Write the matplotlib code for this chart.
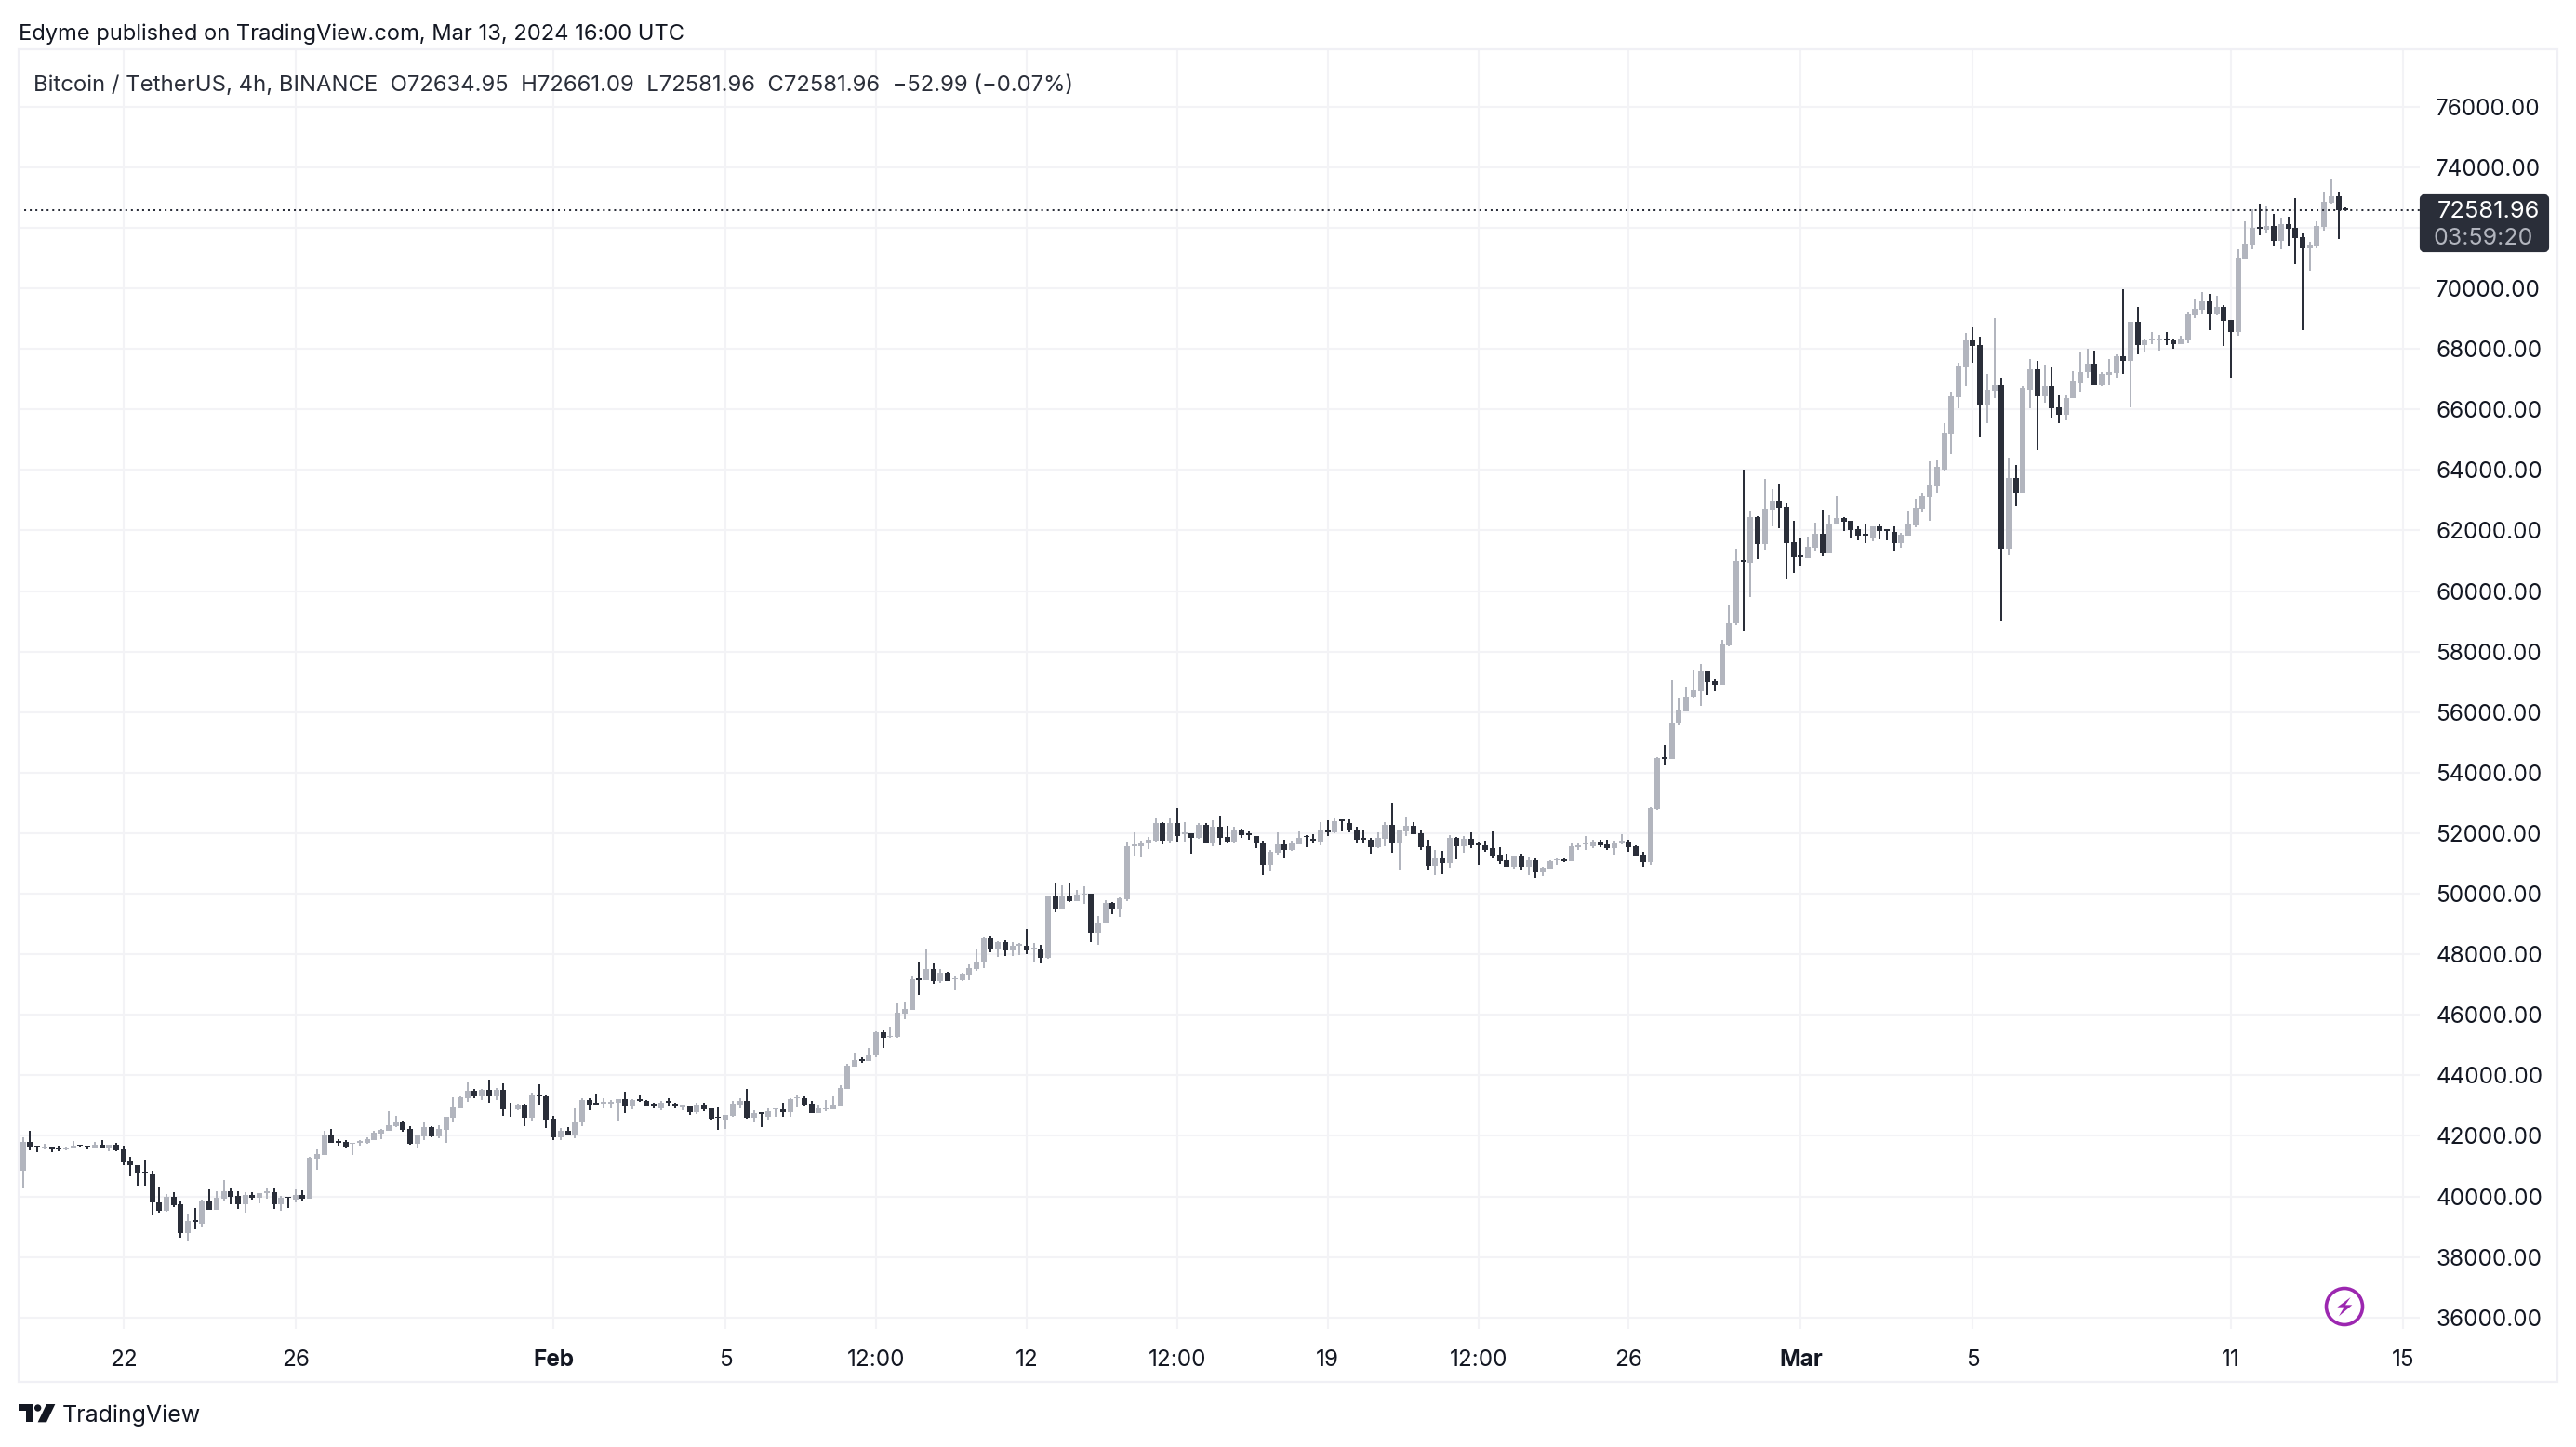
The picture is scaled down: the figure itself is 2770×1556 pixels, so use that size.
import matplotlib
matplotlib.use("Agg")
import matplotlib.pyplot as plt
import matplotlib.dates as mdates
from matplotlib.patches import Rectangle, Circle, Polygon, FancyBboxPatch
import numpy as np
import pandas as pd

plt.rcParams['font.family'] = ['Inter', 'DejaVu Sans']

highs = [41960,42175,41670,41730,41650,41660,41650,41835,41700,41670,
41805,41855,41710,41775,41680,41300,41025,41220,40840,40330,
40080,40130,39825,39435,39620,39900,40235,40175,40545,40255,
40175,40130,40130,40100,40265,40265,40020,39990,40235,40205,
41300,41560,42175,42235,41900,41855,41775,41865,41960,42165,
42235,42820,42665,42510,42330,42050,42480,42330,42360,42635,
43280,43300,43775,43560,43560,43865,43590,43745,43100,43065,
43065,43435,43715,43335,42665,42265,42300,42915,43250,43250,
43405,43250,43190,43220,43465,43220,43375,43190,43100,43160,
43250,43100,43025,43005,43100,43100,42945,42975,42700,43160,
43250,43560,42850,42790,42945,42915,43100,43250,43375,43315,
43160,43035,43190,43310,43685,44390,44760,44605,44890,45445,
45475,45600,46370,46430,47290,47725,48185,47695,47510,47415,
47260,47385,47660,48155,48555,48585,48430,48460,48400,48370,
48830,48370,48310,49930,50330,50265,50360,50115,50235,50000,
49260,49785,49735,49880,51710,52020,51745,51870,52480,52360,
52480,52820,52360,51990,52330,52330,52420,52575,52235,52205,
52145,52050,51900,51750,51445,52030,51785,51755,52060,51940,
51970,52370,52430,52490,52460,52460,52215,52125,51845,52030,
52370,52985,52125,52525,52370,52125,51785,51445,51415,51940,
51875,51910,52030,51725,51755,52060,51540,51320,51260,51320,
51200,51170,50890,51110,51170,51170,51690,51660,51910,51785,
51785,51785,51755,51970,51785,51600,51385,52860,54525,54920,
57075,56460,56830,57415,57600,57350,57105,58400,59510,61385,
64000,62650,62460,63695,63355,63540,62895,62310,61755,61785,
62245,62680,62495,63140,62430,62310,62125,62185,62125,62215,
62030,62125,61910,62650,63015,63230,64280,64310,65560,66575,
67530,68515,68700,68390,67160,69005,67005,64370,64155,66760,
67650,67590,67465,67375,66480,66480,67280,67900,67990,67930,
67250,67650,67805,69960,68885,69375,68300,68545,68450,68545,
68300,68420,69190,69650,69865,69805,69745,69435,68945,71280,
72205,72605,72790,72730,72450,72330,72360,72975,71805,71530,
72205,73160,73620,73160,72661.09]

body_tops = [41805,41805,41670,41650,41630,41590,41620,41680,41700,41670,
41700,41700,41700,41720,41560,41190,41025,40810,40760,39805,
40000,39990,39745,39190,39220,39870,39870,39960,40175,40175,
40020,40050,40050,40100,40175,40140,39960,39990,40050,40050,
41280,41405,42050,42050,41825,41805,41775,41835,41900,42115,
42205,42360,42450,42450,42235,42020,42300,42300,42235,42635,
42975,43280,43500,43500,43530,43530,43530,43530,42945,43035,
43035,43345,43375,43315,42575,42175,42175,42480,43190,43190,
43085,43100,43130,43220,43220,43190,43220,43160,43055,43100,
43130,43055,43025,43005,43035,43035,42915,42635,42700,43065,
43160,43160,42760,42770,42820,42915,42880,43220,43280,43250,
43065,42915,42945,43035,43590,44330,44515,44545,44675,45415,
45415,45300,46060,46185,47170,47200,47510,47510,47385,47385,
47200,47355,47540,47755,48525,48525,48400,48400,48280,48340,
48280,48205,48185,49910,49900,49900,49900,49960,50010,49990,
49045,49690,49690,49850,51560,51610,51680,51775,52330,52330,
52330,52330,52020,51990,52270,52270,52205,52205,51870,52115,
52115,51990,51900,51690,51385,51630,51630,51660,51845,51910,
51815,52125,52125,52400,52430,52340,52125,51845,51785,51845,
52275,52275,52090,52245,52245,52000,51570,51170,51170,51845,
51845,51815,51815,51660,51600,51510,51290,51105,51230,51230,
51105,51105,50860,51075,51140,51140,51570,51600,51660,51725,
51725,51630,51660,51755,51725,51570,51290,52830,54495,54520,
55660,56060,56520,56740,57350,57350,57045,58245,58955,60985,
61015,62430,62430,62710,62955,62955,62770,61600,61170,61445,
61880,61880,62215,62400,62400,62310,62030,61880,62125,62125,
62030,61940,61845,62185,62740,63140,63480,64095,65220,66450,
67405,68270,68270,68115,66665,66790,66790,63725,63725,66700,
67315,67315,66760,66760,66080,66390,66915,67250,67500,67500,
67160,67220,67745,67745,68885,68885,68265,68330,68330,68330,
68265,68300,69130,69315,69560,69560,69375,69375,68945,71005,
71465,71990,72010,72050,72050,72115,72115,71990,71680,71435,
72050,72855,73035,73035,72634.95]

body_bottoms = [40860,41630,41640,41600,41550,41550,41540,41600,41660,41630,
41600,41600,41580,41520,41160,41015,40770,40770,39785,39530,
39515,39710,38790,38790,39170,39095,39560,39560,39925,39990,
39745,39745,39960,39960,40110,39745,39745,39940,39895,39925,
39925,41250,41375,41775,41765,41650,41735,41765,41765,41865,
42080,42175,42330,42205,41745,41745,41990,41990,41990,42205,
42605,42945,43250,43315,43315,43315,43315,42880,42900,42880,
42605,42605,43315,42545,41960,41960,42020,42020,42450,43035,
43035,43065,43065,43100,43005,43005,43160,43005,43005,42945,
43090,43005,42975,42790,42790,42880,42575,42585,42545,42665,
43035,42605,42605,42730,42635,42860,42790,42790,43230,43035,
42760,42760,42880,42880,43005,43560,44300,44480,44460,44645,
45230,45260,45260,46030,46155,47150,47140,47110,47110,47110,
47170,47140,47325,47510,47725,48155,48155,48125,48125,48280,
48125,48155,47880,47880,49500,49500,49745,49745,49970,48710,
48710,49015,49480,49480,49805,51580,51560,51650,51745,51745,
51745,51900,51980,51835,51835,51680,51680,51835,51715,51715,
51930,51930,51650,50955,50955,51355,51445,51445,51630,51870,
51765,51725,52030,52030,52400,52090,51785,51785,51540,51540,
51815,51660,51660,52060,51970,51540,50925,50925,51015,51015,
51570,51570,51600,51610,51445,51260,51075,50890,50890,50890,
50890,50705,50705,50830,51095,51075,51075,51550,51620,51570,
51600,51510,51510,51690,51540,51260,51045,51045,52800,54470,
54460,55630,56030,56490,56705,57015,56890,56890,58215,58925,
60955,60925,61540,61540,62680,62740,61570,61110,61120,61080,
61415,61230,61230,62185,62280,62000,61815,61825,61755,61970,
61980,61570,61570,61815,62155,62710,63110,63445,64020,65190,
66420,67375,68085,66115,66115,66635,61385,61385,63230,63230,
66665,66450,66450,66050,65835,65835,66360,66880,67220,66790,
66790,67130,67190,67590,67590,68115,68115,68270,68290,68280,
68145,68145,68265,69095,69280,69130,69130,68910,68545,68545,
70975,71435,71970,71930,71560,71560,71960,71650,71315,71315,
71405,72020,72820,72575,72581.96]

lows = [40275,41510,41445,41540,41445,41490,41510,41590,41630,41540,
41590,41590,41500,41480,41035,40675,40340,40340,39415,39475,
39495,39660,38635,38550,38920,39005,39560,39540,39845,39745,
39590,39465,39900,39775,39925,39590,39525,39620,39805,39865,
39925,40880,41375,41775,41680,41590,41375,41680,41725,41855,
41900,42175,42300,42145,41710,41590,41865,41960,41930,41775,
42480,42945,43130,43250,43190,43100,43190,42665,42635,42850,
42330,42510,43035,42265,41865,41865,42020,41930,42330,42850,
43035,42915,42915,42515,42760,42880,43130,43005,42945,42850,
43005,42945,42850,42700,42730,42820,42545,42205,42235,42635,
42945,42575,42480,42300,42545,42635,42635,42635,42975,43005,
42760,42760,42820,42880,43005,43560,44300,44420,44460,44585,
44890,45230,45230,45845,46155,46645,47140,47015,47045,47110,
46800,47110,47140,47445,47540,48060,47910,47940,47940,47970,
48000,47755,47695,47845,49375,49500,49710,49745,49650,48400,
48310,49015,49325,49230,49745,51250,51190,51465,51715,51620,
51650,51715,51715,51315,51805,51680,51560,51590,51650,51680,
51835,51775,51500,50615,50740,51290,51170,51415,51630,51540,
51660,51600,51910,52000,52060,52030,51660,51690,51320,51510,
51570,51355,50770,51910,51970,51445,50800,50615,50645,50860,
51140,51355,51510,50955,51385,51170,50985,50890,50830,50800,
50615,50520,50585,50830,50955,51045,51075,51445,51445,51510,
51540,51445,51290,51630,51385,51260,50890,50955,52770,54245,
54460,55570,56030,56460,56215,56585,56705,56890,58185,58890,
58705,59815,61045,61355,62125,62060,60370,60585,60800,61080,
61325,61140,61230,62185,61970,61755,61660,61570,61630,61690,
61660,61325,61415,61815,62095,62585,62310,63230,63990,64545,
66050,66760,67530,65095,65530,66390,59015,61170,62800,63230,
66050,64665,66235,65715,65560,65650,66360,66545,67005,66790,
66760,66790,67035,67160,66080,67805,67865,68145,67930,68115,
67990,68145,68175,69005,69130,68605,69100,68080,67030,68420,
70975,71280,71745,71805,71375,71280,71375,70790,68605,70575,
71315,71900,72790,71620,72581.96]

directions = ("UDDUDDUUDD" "UDUDDDDDDD" "UDDUDUDUUD" "DUDUUDUDUD" "UUUDDDUUUU"
              "UUUDDUUDUU" "UUUDUDUDDU" "DUDDDUDUUD" "DUUUDUDDDU" "DDUDUDDDUU"
              "UDUDUUDUUD" "DUUUUUUDUU" "DUUUUDUDUD" "UUUUUDUDUU" "DUDUDUDUUD"
              "UUDUUUUUUD" "UDUDUDUDDU" "DDDDUUDUUD" "DUDUDDDDDU" "UDUUDDDUDU"
              "DUDDDDDDUD" "UDUUUDUUUU" "DDUUDDDUUD" "UUUUUDDUUU" "DUDUUDDDDU"
              "UDUUDDDDUD" "DDUUUUUUUU" "UUDDUUDUDU" "UDUDDUUUUD" "UUUDUDUUUD"
              "DUUUUDUDDU" "UUDUDUDDDU" "UUUDD")

time_ticks = ["2024-01-22 00:00", "2024-01-26 00:00", "2024-02-01 00:00", "2024-02-05 00:00", "2024-02-08 12:00",
              "2024-02-12 00:00", "2024-02-15 12:00", "2024-02-19 00:00", "2024-02-22 12:00", "2024-02-26 00:00",
              "2024-03-01 00:00", "2024-03-05 00:00", "2024-03-11 00:00", "2024-03-15 00:00"]
time_labels = ["22", "26", "Feb", "5", "12:00", "12", "12:00", "19", "12:00", "26", "Mar", "5", "11", "15"]
price_ticks = list(range(36000, 78000, 2000))
last_price = 72581.96

W, H = 2770, 1556
DARK = "#2A2E39"
UPC = "#B2B5BE"
GRID = "#F3F3F6"
TEXT = "#131722"
fs = 17.5

fig = plt.figure(figsize=(W / 100, H / 100), dpi=100, facecolor="white")
L, R, T, B = 20, 2602, 53, 1429
ax = fig.add_axes([L / W, 1 - B / H, (R - L) / W, (B - T) / H])

times = pd.date_range("2024-01-19 16:00", periods=len(highs), freq="4h")
x = mdates.date2num(times)
hi, tp, bt, lo = map(np.array, (highs, body_tops, body_bottoms, lows))
up = np.array([c == "U" for c in directions])
cols = np.where(up, UPC, DARK)

PX_PER_DAY = 46.25
x0 = mdates.date2num(pd.Timestamp("2024-01-22"))
ax.set_xlim(x0 + (L - 132.7) / PX_PER_DAY, x0 + (R - 132.7) / PX_PER_DAY)
pp = 1 / 0.03255
ax.set_ylim(70000 - (B - 310) * pp, 70000 + (310 - T) * pp)

ax.bar(x, hi - lo, bottom=lo, width=2 / PX_PER_DAY, color=cols, linewidth=0, zorder=3, antialiased=False)
ax.bar(x, np.maximum(tp - bt, 45), bottom=bt, width=6 / PX_PER_DAY, color=cols, linewidth=0, zorder=3, antialiased=False)
ax.axhline(last_price, color=DARK, lw=1.45, dashes=(1.0, 2.0), zorder=4)

for s in ax.spines.values():
    s.set_visible(False)
ax.set_xticks(mdates.date2num(pd.to_datetime(time_ticks)))
ax.set_xticklabels(time_labels)
ax.set_yticks(price_ticks)
ax.set_yticklabels(["" if p == 72000 else f"{p:.2f}" for p in price_ticks])
ax.yaxis.tick_right()
ax.grid(True, color=GRID, lw=1.45, zorder=0)
ax.set_axisbelow(True)
ax.tick_params(axis="y", length=0, pad=12.5, labelsize=fs, labelcolor=TEXT)
ax.tick_params(axis="x", length=0, pad=15.5, labelsize=fs, labelcolor=TEXT)
for lab in ax.get_xticklabels():
    if lab.get_text() in ("Feb", "Mar"):
        lab.set_fontweight("bold")

ov = fig.add_axes([0, 0, 1, 1], zorder=10)
ov.set_xlim(0, W)
ov.set_ylim(H, 0)
ov.axis("off")
ov.patch.set_alpha(0)
ov.add_patch(Rectangle((20, 53), 2730, 1432.7, fill=False, ec="#F0F0F5", lw=1.6))

ov.text(20, 37, "Edyme published on TradingView.com, Mar 13, 2024 16:00 UTC",
        fontsize=17.05, color=TEXT, va="center", ha="left")
ov.text(36, 92, "Bitcoin / TetherUS, 4h, BINANCE  O72634.95  H72661.09  L72581.96  C72581.96  \u221252.99 (\u22120.07%)",
        fontsize=17.2, color=DARK, va="center", ha="left")

ov.add_patch(FancyBboxPatch((2604, 211), 135, 58, boxstyle="round,pad=0,rounding_size=3",
                            fc=DARK, ec=DARK, lw=3))
ov.text(2676, 227, f"{last_price:.2f}", fontsize=18.3, color="white", va="center", ha="center")
ov.text(2670, 256, "03:59:20", fontsize=18.0, color="#B2B5BE", va="center", ha="center")

# lightning badge
ov.add_patch(Circle((2521, 1405), 19.5, fc="white", ec="#9C27B0", lw=2.6))
bolt = [(383, 165), (340, 197), (362, 197), (345, 226), (388, 190), (366, 190)]
ov.add_patch(Polygon([(2400 + a / 3, 1340 + b / 3) for a, b in bolt], fc="#9C27B0", ec="none"))

# TradingView logo
def lg(pts):
    return [(c / 3, 1440 + d / 3) for c, d in pts]
ov.add_patch(Polygon(lg([(60, 210), (108, 210), (108, 268), (85, 268), (85, 232), (60, 232)]), fc=TEXT, ec="none"))
ov.add_patch(Circle((122 / 3, 1440 + 222 / 3), 11 / 3, fc=TEXT, ec="none"))
ov.add_patch(Polygon(lg([(150, 210), (178, 210), (150, 268), (122, 268)]), fc=TEXT, ec="none"))
ov.text(67, 1522, "TradingView", fontsize=18, color=TEXT, va="center", ha="left")

fig.savefig("out.png", dpi=100)
